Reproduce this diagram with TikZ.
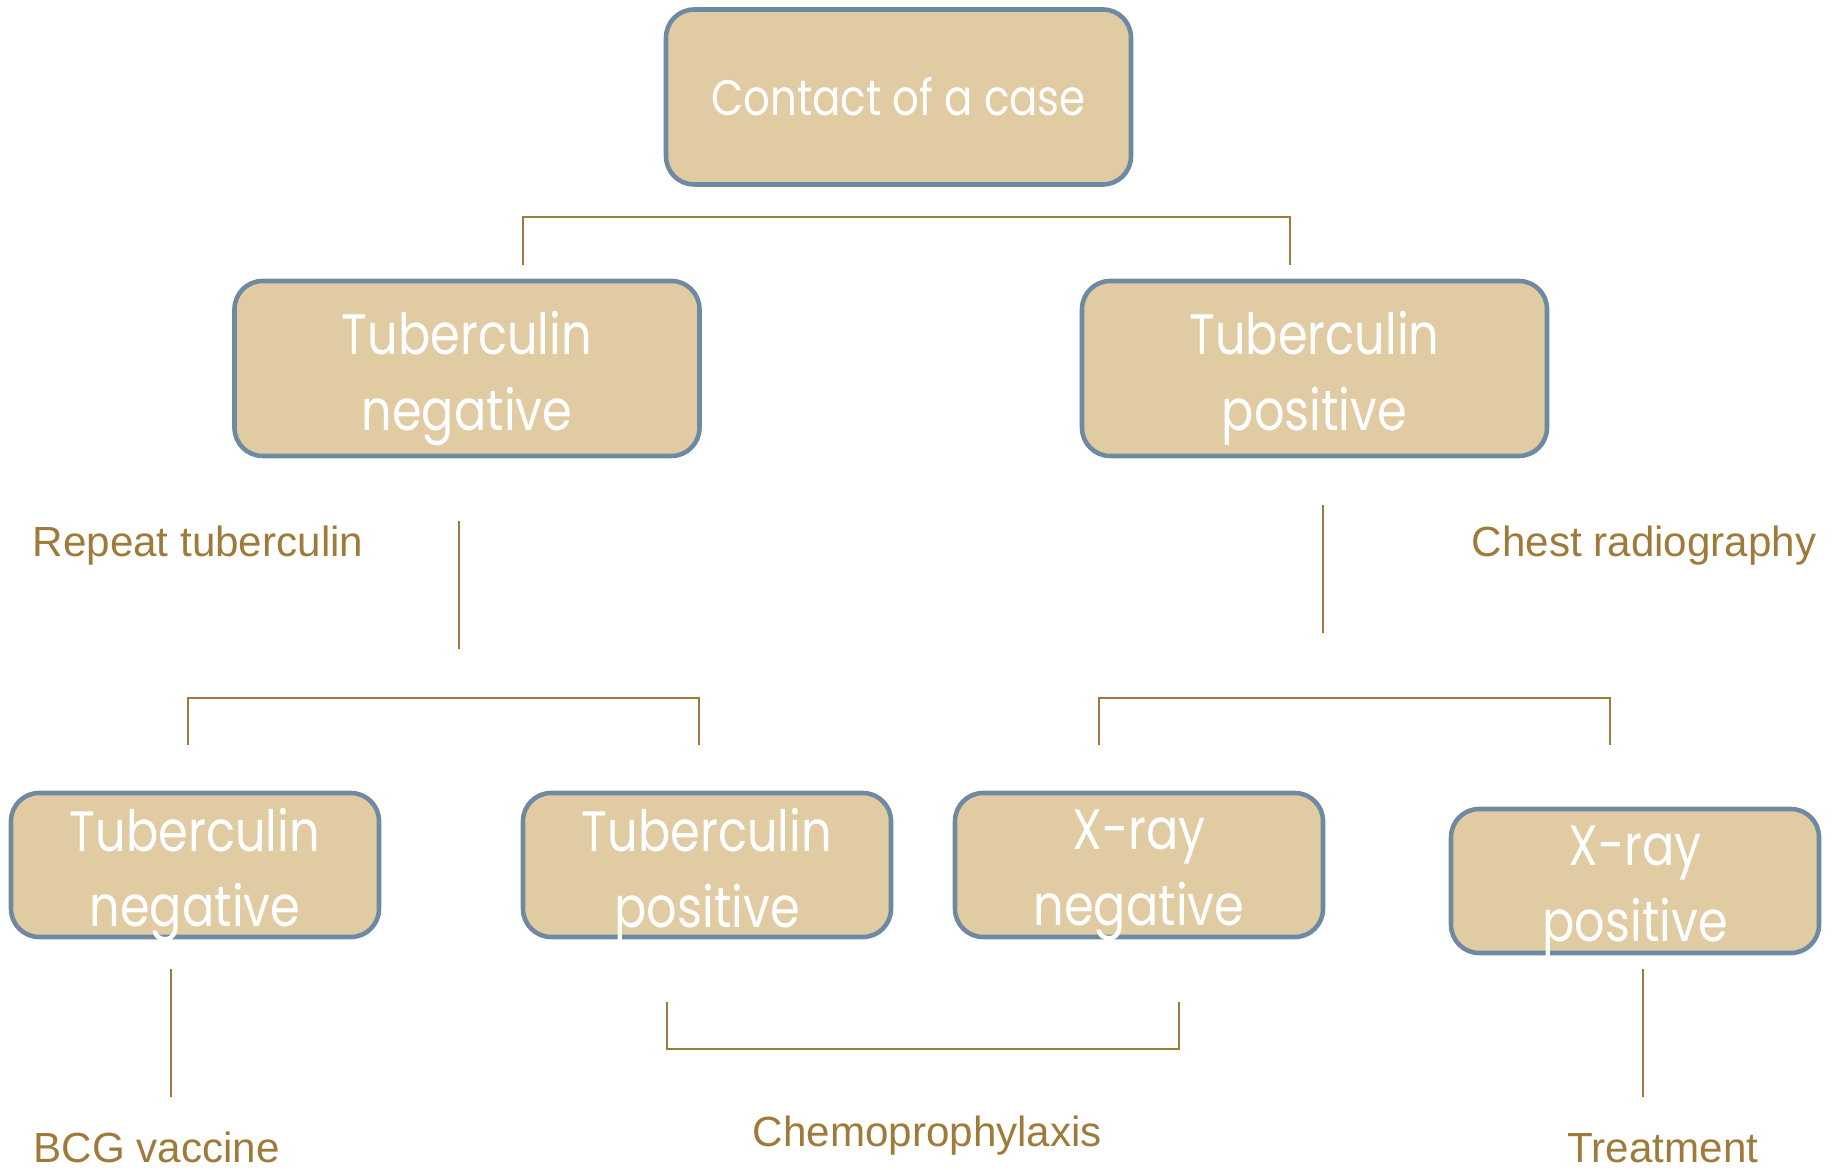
\documentclass[tikz,border=0pt]{standalone}
\usepackage{fontspec}
\setmainfont{Liberation Sans}
\newfontfamily\cardfont[FakeStretch=0.84]{Poppins}
\usetikzlibrary{positioning,calc}
\definecolor{cardfill}{HTML}{E0CBA3}
\definecolor{cardedge}{HTML}{6E8AA2}
\definecolor{linkgold}{HTML}{9F7B3A}

\begin{document}
\begin{tikzpicture}[
  topcard/.style={draw=cardedge,fill=cardfill,line width=1.3pt,rounded corners=8pt,
    inner sep=0pt,minimum width=4.65cm,minimum height=1.75cm},
  lowcard/.style={topcard,minimum width=3.68cm,minimum height=1.44cm},
  cardtext/.style={font=\cardfont\fontsize{16.2}{21.6}\selectfont,text=white,align=center,yshift=-1mm},
  lbl/.style={font=\fontsize{12}{14}\selectfont,text=linkgold,anchor=base west,inner sep=0pt},
  link/.style={draw=linkgold,line width=0.7pt}]

\useasboundingbox (0,0) rectangle (18.39,11.70);

% ---- boxes ----
\node[topcard,label={[cardtext,yshift=1mm,font=\cardfont\fontsize{14.2}{19}\selectfont]center:Contact of a case}]
  (contact) at (8.985,10.73) {};
\node[topcard,label={[cardtext]center:Tuberculin\\negative}] (tneg) at (4.67,8.015) {};
\node[topcard,label={[cardtext]center:Tuberculin\\positive}] (tpos) at (13.145,8.015) {};

\node[lowcard,label={[cardtext]center:Tuberculin\\negative}] (tneg2) at (1.95,3.05) {};
\node[lowcard,label={[cardtext]center:Tuberculin\\positive}] (tpos2) at (7.07,3.05) {};
\node[lowcard,label={[cardtext]center:X-ray\\negative}] (xneg) at (11.39,3.05) {};
\node[lowcard,label={[cardtext]center:X-ray\\positive}] (xpos) at (16.35,2.89) {};

% ---- side texts ----
\node[lbl] (repeat) at (0.32,6.13) {Repeat tuberculin};
\node[lbl] (chest) at (14.71,6.13) {Chest radiography};
\node[lbl] (bcg) at (0.33,0.07) {BCG vaccine};
\node[lbl] (chemo) at (7.52,0.23) {Chemoprophylaxis};
\node[lbl] (treat) at (15.67,0.07) {Treatment};

% ---- bracket ends ----
\coordinate (b1l) at (5.23,9.05);  \coordinate (b1c) at (5.23,9.53);  \coordinate (b1r) at (12.90,9.05);
\coordinate (b2l) at (1.88,4.25);  \coordinate (b2c) at (1.88,4.72);  \coordinate (b2r) at (6.99,4.25);
\coordinate (b3l) at (10.99,4.25); \coordinate (b3c) at (10.99,4.72); \coordinate (b3r) at (16.10,4.25);
\coordinate (b4l) at (6.67,1.68);  \coordinate (b4c) at (6.67,1.21);  \coordinate (b4r) at (11.79,1.68);

% ---- brackets ----
\foreach \b in {b1,b2,b3,b4}{
  \draw[link] (\b l) -- (\b c) -| (\b r);
}

% ---- stems ----
\coordinate (s1a) at (4.59,6.49);  \coordinate (s1b) at (4.59,5.21);
\coordinate (s2a) at (13.23,6.65); \coordinate (s2b) at (13.23,5.37);
\coordinate (s3a) at (1.71,2.01);  \coordinate (s3b) at (1.71,0.73);
\coordinate (s4a) at (16.43,2.01); \coordinate (s4b) at (16.43,0.73);
\foreach \s in {s1,s2,s3,s4}{
  \draw[link] (\s a) -- (\s b);
}

\end{tikzpicture}
\end{document}
